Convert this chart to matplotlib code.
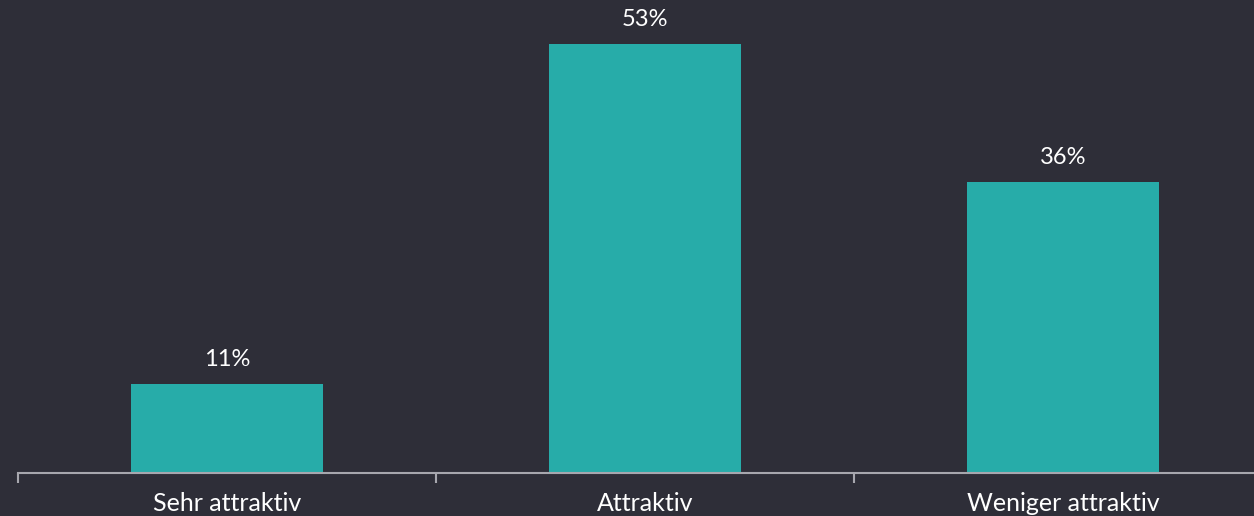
import numpy as np
import matplotlib
matplotlib.use("Agg")
import matplotlib.pyplot as plt

categories = ["Sehr attraktiv", "Attraktiv", "Weniger attraktiv"]
values = [11, 53, 36]

bg = "#2e2e38"
bar_color = "#27aca9"
axis_color = "#a7a7ae"
text_color = "#ffffff"

W, H = 1254, 516
fig = plt.figure(figsize=(W / 100, H / 100), dpi=100, facecolor=bg)
left, bottom = 18, 43
ax = fig.add_axes([left / W, bottom / H, 1 - left / W, 1 - bottom / H])
ax.set_facecolor(bg)

x = np.arange(len(categories))
bars = ax.bar(x, values, width=0.457, color=bar_color, zorder=2)

for b, v in zip(bars, values):
    ax.annotate(f"{v}%", (b.get_x() + b.get_width() / 2, v),
                xytext=(0, 10), textcoords="offset points",
                ha="center", va="bottom", color=text_color,
                fontsize=17, family="Lato")

ax.set_xlim(-0.5, (W - left) / 418 - 0.5)
ax.set_ylim(0, 58.44)

for s in ["top", "right", "left"]:
    ax.spines[s].set_visible(False)
ax.spines["bottom"].set_color(axis_color)
ax.spines["bottom"].set_linewidth(1.5)

ax.set_yticks([])
ax.set_xticks(x)
ax.set_xticklabels(categories, color=text_color, fontsize=18, family="Lato")
ax.tick_params(axis="x", which="major", length=0, pad=14)
ax.set_xticks([-0.5, 0.5, 1.5], minor=True)
ax.tick_params(axis="x", which="minor", length=7, width=1.5, color=axis_color)

fig.savefig("out.png", dpi=100, facecolor=bg)
